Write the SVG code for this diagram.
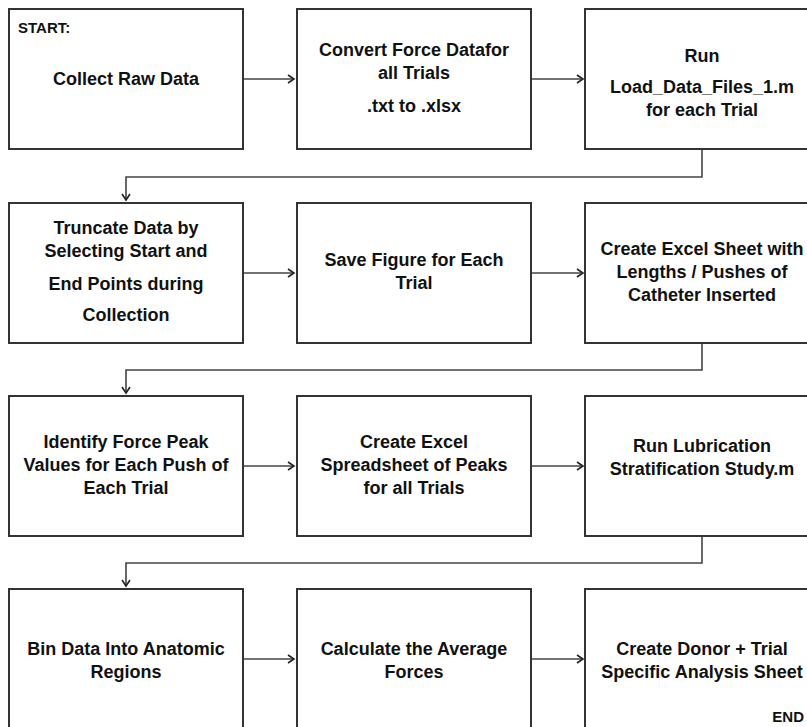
<svg xmlns="http://www.w3.org/2000/svg" width="807" height="727" viewBox="0 0 807 727">
<style>
.box{fill:#fff;stroke:#333;stroke-width:2}
.t{font-family:"Liberation Sans",Arial,sans-serif;font-weight:bold;font-size:18px;fill:#111;text-anchor:middle}
.s{font-family:"Liberation Sans",Arial,sans-serif;font-weight:bold;font-size:15px;fill:#111}
.c{fill:none;stroke:#444;stroke-width:1.6}
</style>
<defs>
<marker id="ah" markerWidth="10" markerHeight="10" refX="7" refY="5" orient="auto" markerUnits="userSpaceOnUse">
<path d="M1,1 L7,5 L1,9" fill="none" stroke="#222" stroke-width="1.6"/>
</marker>
</defs>
<rect width="807" height="727" fill="#fff"/>
<g id="connectors">
<line class="c" x1="243" y1="79" x2="294" y2="79" marker-end="url(#ah)"/>
<line class="c" x1="531" y1="79" x2="583" y2="79" marker-end="url(#ah)"/>
<polyline class="c" points="702,149 702,177 126,177 126,200" marker-end="url(#ah)"/>
<line class="c" x1="243" y1="273" x2="294" y2="273" marker-end="url(#ah)"/>
<line class="c" x1="531" y1="273" x2="583" y2="273" marker-end="url(#ah)"/>
<polyline class="c" points="702,343 702,370 126,370 126,393" marker-end="url(#ah)"/>
<line class="c" x1="243" y1="466" x2="294" y2="466" marker-end="url(#ah)"/>
<line class="c" x1="531" y1="466" x2="583" y2="466" marker-end="url(#ah)"/>
<polyline class="c" points="702,536 702,563 126,563 126,586" marker-end="url(#ah)"/>
<line class="c" x1="243" y1="659" x2="294" y2="659" marker-end="url(#ah)"/>
<line class="c" x1="531" y1="659" x2="583" y2="659" marker-end="url(#ah)"/>
</g>
<g id="n1"><rect class="box" x="9" y="9" width="234" height="140"/>
<text class="s" x="18" y="33">START:</text>
<text class="t" x="126" y="85">Collect Raw Data</text></g>
<g id="n2"><rect class="box" x="297" y="9" width="234" height="140"/>
<text class="t" x="414" y="56">Convert Force Datafor</text>
<text class="t" x="414" y="79">all Trials</text>
<text class="t" x="414" y="112">.txt to .xlsx</text></g>
<g id="n3"><rect class="box" x="585" y="9" width="234" height="140"/>
<text class="t" x="702" y="62">Run</text>
<text class="t" x="702" y="93">Load_Data_Files_1.m</text>
<text class="t" x="702" y="116">for each Trial</text></g>
<g id="n4"><rect class="box" x="9" y="203" width="234" height="140"/>
<text class="t" x="126" y="234">Truncate Data by</text>
<text class="t" x="126" y="257">Selecting Start and</text>
<text class="t" x="126" y="290">End Points during</text>
<text class="t" x="126" y="321">Collection</text></g>
<g id="n5"><rect class="box" x="297" y="203" width="234" height="140"/>
<text class="t" x="414" y="266">Save Figure for Each</text>
<text class="t" x="414" y="289">Trial</text></g>
<g id="n6"><rect class="box" x="585" y="203" width="234" height="140"/>
<text class="t" x="702" y="255">Create Excel Sheet with</text>
<text class="t" x="702" y="278">Lengths / Pushes of</text>
<text class="t" x="702" y="301">Catheter Inserted</text></g>
<g id="n7"><rect class="box" x="9" y="396" width="234" height="140"/>
<text class="t" x="126" y="448">Identify Force Peak</text>
<text class="t" x="126" y="471">Values for Each Push of</text>
<text class="t" x="126" y="494">Each Trial</text></g>
<g id="n8"><rect class="box" x="297" y="396" width="234" height="140"/>
<text class="t" x="414" y="448">Create Excel</text>
<text class="t" x="414" y="471">Spreadsheet of Peaks</text>
<text class="t" x="414" y="494">for all Trials</text></g>
<g id="n9"><rect class="box" x="585" y="396" width="234" height="140"/>
<text class="t" x="702" y="452">Run Lubrication</text>
<text class="t" x="702" y="475">Stratification Study.m</text></g>
<g id="n10"><rect class="box" x="9" y="589" width="234" height="150"/>
<text class="t" x="126" y="655">Bin Data Into Anatomic</text>
<text class="t" x="126" y="678">Regions</text></g>
<g id="n11"><rect class="box" x="297" y="589" width="234" height="150"/>
<text class="t" x="414" y="655">Calculate the Average</text>
<text class="t" x="414" y="678">Forces</text></g>
<g id="n12"><rect class="box" x="585" y="589" width="234" height="150"/>
<text class="t" x="702" y="655">Create Donor + Trial</text>
<text class="t" x="702" y="678">Specific Analysis Sheet</text>
<text class="s" x="804" y="722" text-anchor="end">END</text></g>
</svg>
